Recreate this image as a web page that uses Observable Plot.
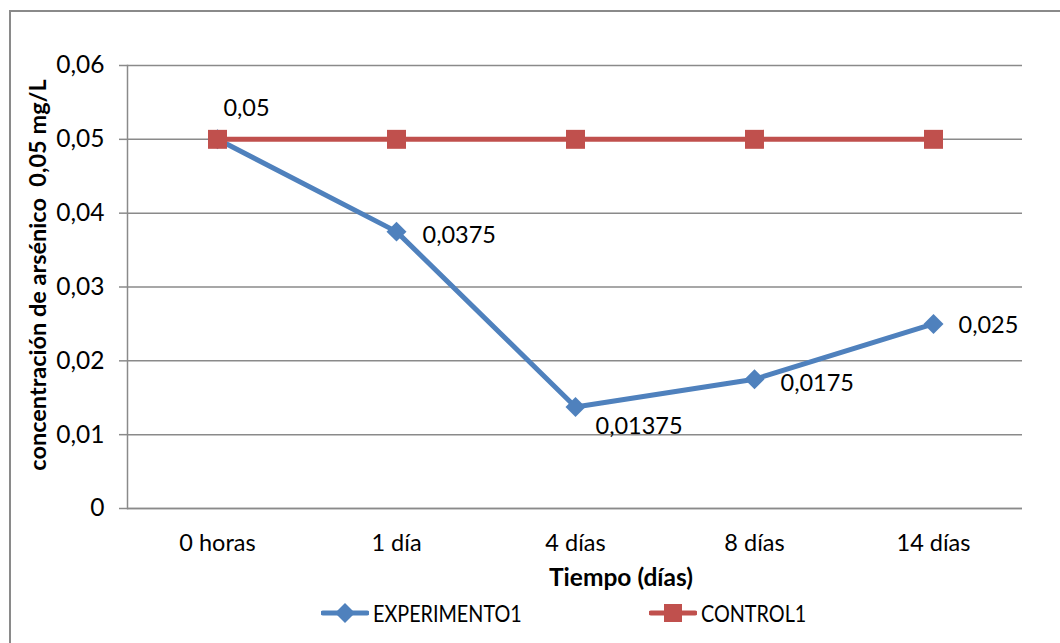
<!DOCTYPE html>
<html>
<head>
<meta charset="utf-8">
<script src="https://cdn.jsdelivr.net/npm/d3@7"></script>
<script src="https://cdn.jsdelivr.net/npm/@observablehq/plot@0.6"></script>
<style>
  body { margin: 0; background: #fff; }
  #wrap { position: relative; width: 1060px; height: 643px; overflow: hidden; font-family: Lato, "Open Sans", sans-serif; }
  #frame { position: absolute; left: 9px; top: 10px; width: 1080px; height: 660px; border: 2px solid #8a8a8a; box-sizing: border-box; }
  #chart { position: absolute; left: 0; top: 0; }
  .lg { position: absolute; top: 600px; height: 26px; display: flex; align-items: center; font-size: 23px; color: #000; }
  .lg svg { margin-right: 4px; flex: none; }
  .lg span { display: inline-block; transform: scaleX(0.86); transform-origin: left center; white-space: nowrap; }
</style>
</head>
<body>
<div id="wrap">
  <div id="frame"></div>
  <div id="chart"></div>
  <div class="lg" style="left:321px">
    <svg width="48" height="26"><line x1="2" x2="46" y1="13" y2="13" stroke="#4F81BD" stroke-width="5" stroke-linecap="round"/><path d="M24,3L34,13L24,23L14,13Z" fill="#4F81BD"/></svg>
    <span>EXPERIMENTO1</span>
  </div>
  <div class="lg" style="left:649px">
    <svg width="48" height="26"><line x1="2" x2="46" y1="13" y2="13" stroke="#C0504D" stroke-width="5" stroke-linecap="round"/><rect x="15" y="4" width="18" height="18" fill="#C0504D"/></svg>
    <span>CONTROL1</span>
  </div>
</div>
<script>
// Sampling times and arsenic concentration (mg/L) for each series
const categories = ["0 horas", "1 día", "4 días", "8 días", "14 días"];
const experimento = [0.05, 0.0375, 0.01375, 0.0175, 0.025];
const control = [0.05, 0.05, 0.05, 0.05, 0.05];
const yTicks = [0, 0.01, 0.02, 0.03, 0.04, 0.05, 0.06];

const BLUE = "#4F81BD";
const RED = "#C0504D";
const GRID = "#8a8a8a";

const expData = categories.map((c, i) => ({ t: c, v: experimento[i], i }));
const ctlData = categories.map((c, i) => ({ t: c, v: control[i], i }));

const comma = d => (d === 0 ? "0" : String(+d.toFixed(5)).replace(".", ","));

// Data-label placement around each experiment point: [dx, dy, textAnchor]
const labelPlacement = [
  [29, -31, "middle"],
  [26, 4, "start"],
  [20, 19, "start"],
  [26, 4, "start"],
  [25, 2, "start"]
];

const labelMarks = labelPlacement.map(([dx, dy, anchor], k) =>
  Plot.text(expData.filter(d => d.i === k), {
    x: "t", y: "v", text: d => comma(d.v),
    dx, dy, textAnchor: anchor, fill: "#000", fontSize: 23.5
  })
);

const chart = Plot.plot({
  width: 1060,
  height: 643,
  marginLeft: 127,
  marginRight: 38,
  marginTop: 65,
  marginBottom: 135,
  style: { fontFamily: "Lato, 'Open Sans', sans-serif", fontSize: "24.5px", color: "#000", background: "transparent", overflow: "visible" },
  x: { type: "point", domain: categories, padding: 0.5 },
  y: { domain: [0, 0.06] },
  marks: [
    Plot.gridY(yTicks, { stroke: GRID, strokeOpacity: 1, strokeWidth: 1.5 }),
    Plot.frame({ anchor: "left", stroke: GRID, strokeWidth: 1.5 }),
    Plot.ruleY([0], { stroke: GRID, strokeWidth: 1.5 }),
    Plot.axisY(yTicks, { tickSize: 8, tickPadding: 15, tickFormat: comma, stroke: GRID, strokeWidth: 1.5, label: null, fill: "#000" }),
    Plot.axisX({ tickSize: 0, tickPadding: 26, label: null, fill: "#000", fontSize: 23.5 }),
    Plot.text(["concentración de arsénico  0,05 mg/L"], {
      frameAnchor: "left", rotate: -90, dx: -89, dy: -12, textAnchor: "middle",
      fontWeight: "bold", fontSize: 23.5, fill: "#000"
    }),
    Plot.text(["Tiempo (días)"], {
      frameAnchor: "bottom", dx: 46, dy: 77,
      fontWeight: "bold", fontSize: 24.5, fill: "#000"
    }),
    Plot.line(expData, { x: "t", y: "v", stroke: BLUE, strokeWidth: 5 }),
    Plot.dot(expData, { x: "t", y: "v", symbol: "diamond2", r: 9, fill: BLUE, stroke: "none" }),
    Plot.line(ctlData, { x: "t", y: "v", stroke: RED, strokeWidth: 5 }),
    Plot.dot(ctlData, { x: "t", y: "v", symbol: "square", r: 10.7, fill: RED, stroke: "none" }),
    ...labelMarks
  ]
});

document.getElementById("chart").appendChild(chart);
</script>
</body>
</html>
